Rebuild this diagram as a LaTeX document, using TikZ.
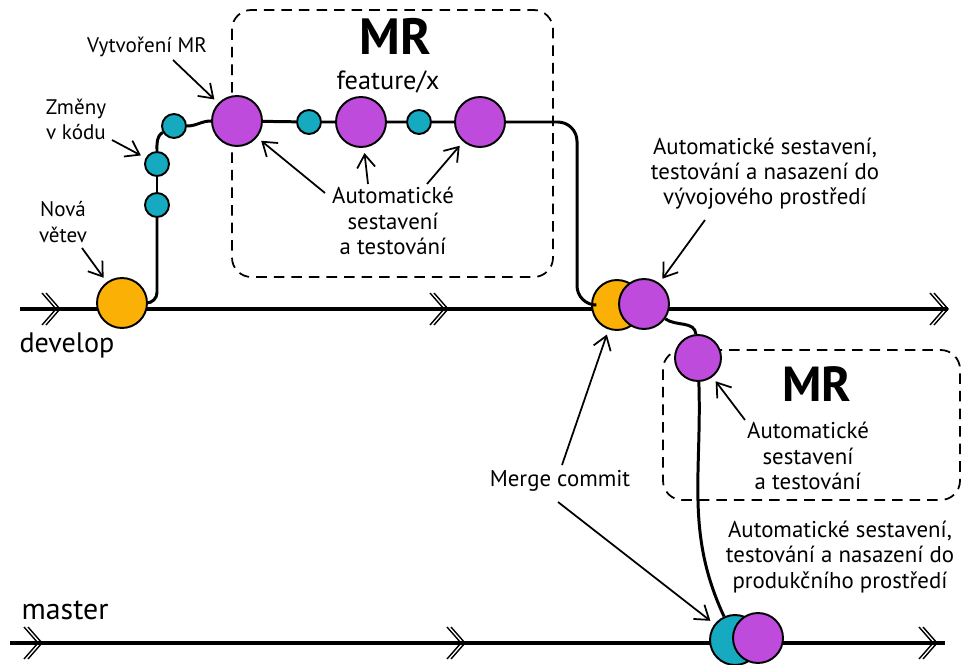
\documentclass[tikz,border=0pt]{standalone}
\usepackage{fontspec}
\setmainfont{PT Sans}
\usetikzlibrary{arrows.meta}
\definecolor{commitorange}{HTML}{FAB005}
\definecolor{commitpurple}{HTML}{BE4BDB}
\definecolor{committeal}{HTML}{15AABF}
\tikzset{
  trunk/.style={line width=2pt},
  branchline/.style={line width=1.7pt},
  commit/.style={circle, draw, line width=1.1pt, inner sep=0pt, minimum size=1cm},
  small/.style={circle, draw, line width=1.1pt, inner sep=0pt, minimum size=0.48cm, fill=committeal},
  note/.style={line width=1pt, -{Straight Barb[length=2.6mm,width=3.6mm,line width=1pt]}, shorten >=3pt},
  lbl/.style={font=\fontsize{13}{14.3}\selectfont, align=center, inner sep=0pt},
  tag/.style={font=\fontsize{12}{14.3}\selectfont, align=center, inner sep=0pt},
  mrlbl/.style={font=\fontsize{29}{31}\selectfont\bfseries, inner sep=0pt},
  mrbox/.style={line width=1pt, rounded corners=11pt, dash pattern=on 6pt off 4pt},
  chev/.pic={
    \draw[line width=0.8pt] (-14,-16) -- (0,0) -- (-14,16);
    \draw[line width=0.8pt] (-18,-16) -- (-4,0) -- (-18,16);
  }
}
\begin{document}
\begin{tikzpicture}[x=0.02cm, y=-0.02cm]
  \useasboundingbox (0,0) rectangle (970,665);
  % develop and master
  \coordinate (d0) at (20,309);
  \coordinate (d1) at (948,309);
  \coordinate (m0) at (10,643);
  \coordinate (m1) at (945,643);
  \draw[trunk] (d0) -- (d1);
  \draw[trunk] (m0) -- (m1);
  \pic at (60,309) {chev};
  \pic at (448,309) {chev};
  \pic at (948,309) {chev};
  \pic at (42,643) {chev};
  \pic at (465,643) {chev};
  \pic at (937,643) {chev};
  % merge requests
  \draw[mrbox] (232,10) rectangle (553,277);
  \draw[mrbox] (663,350) rectangle (960,500);
  % commits
  \node[commit, fill=commitorange] (nv) at (122,303) {};
  \node[small] (z1) at (157,205) {};
  \node[small] (z2) at (157,164) {};
  \node[small] (z3) at (174,126) {};
  \node[commit, fill=commitpurple] (mr1) at (237,121) {};
  \node[small] (t1) at (309,122) {};
  \node[commit, fill=commitpurple] (p2) at (361,122) {};
  \node[small] (t2) at (419,122) {};
  \node[commit, fill=commitpurple] (p3) at (480,122) {};
  \node[commit, fill=commitorange] (mg) at (617,305) {};
  \node[commit, fill=commitpurple] (mp) at (644,304) {};
  \node[commit, fill=commitpurple, minimum size=0.92cm] (p4) at (698,358) {};
  \node[commit, fill=committeal] (mt) at (735,640) {};
  \node[commit, fill=commitpurple] (mq) at (758,638) {};
  % branch
  \coordinate (k1) at (577,200);
  \begin{scope}[branchline]
    \draw[rounded corners=6pt] (nv.east) -| (z1);
    \draw (z1) -- (z2);
    \draw (z2) to[out=90,in=-150] (z3);
    \draw (z3) to[out=0,in=180] (mr1);
    \draw (mr1) -- (t1) -- (p2) -- (t2) -- (p3);
    \draw[rounded corners=11pt] (p3.east) -| (k1) |- (mg.west);
    \draw (mp) to[out=-35,in=95] (p4);
    \draw (p4) to[out=-88,in=115] (mt);
  \end{scope}
  % labels
  \node[tag] (vmr) at (147,47) {Vytvoření MR};
  \node[tag] (zm) at (76,119) {Změny\\v kódu};
  \node[tag] (nvv) at (63,222) {Nová\\větev};
  \node[lbl, font=\fontsize{16}{18}\selectfont] (devl) at (67,345) {develop};
  \node[lbl, font=\fontsize{17}{19}\selectfont] (mstl) at (65,610) {master};
  \node[mrlbl] (mr) at (395,36) {MR};
  \node[lbl, font=\fontsize{15}{17}\selectfont] (fx) at (388,82) {feature/x};
  \node[lbl] (at1) at (393,221) {Automatické\\sestavení\\a testování};
  \node[lbl] (at2) at (765,174) {Automatické sestavení,\\testování a nasazení do\\vývojového prostředí};
  \node[mrlbl, font=\fontsize{28}{30}\selectfont\bfseries] (mr2) at (817,384) {MR};
  \node[lbl] (at3) at (808,456) {Automatické\\sestavení\\a testování};
  \node[lbl] (at4) at (840,557) {Automatické sestavení,\\testování a nasazení do\\produkčního prostředí};
  \node[lbl] (mc) at (560,481) {Merge commit};
  % notes
  \coordinate (a1) at (173,60);
  \coordinate (a2) at (112,140);
  \coordinate (a3) at (82,248);
  \coordinate (a4) at (325,193);
  \coordinate (a5) at (368,184);
  \coordinate (a6) at (427,184);
  \coordinate (a7) at (705,220);
  \coordinate (a8) at (745,420);
  \coordinate (a9) at (562,465);
  \coordinate (a10) at (558,502);
  \begin{scope}[note]
    \draw (a1) -- (mr1);
    \draw (a2) -- (z2);
    \draw (a3) -- (nv);
    \draw (a4) -- (mr1);
    \draw (a5) -- (p2);
    \draw (a6) -- (p3);
    \draw (a7) -- (mp);
    \draw (a8) -- (p4);
    \draw (a9) -- (mg);
    \draw (a10) -- (mt);
  \end{scope}
\end{tikzpicture}
\end{document}
